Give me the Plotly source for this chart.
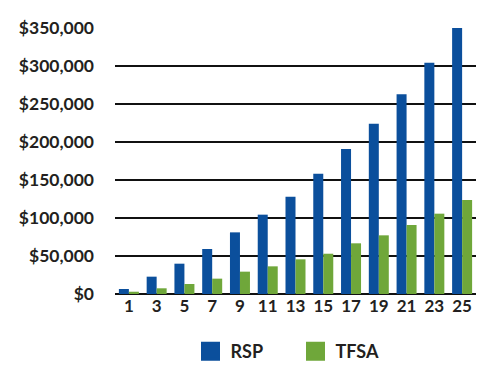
import plotly.graph_objects as go

years = ["1", "3", "5", "7", "9", "11", "13", "15", "17", "19", "21", "23", "25"]
rsp = [6600, 22800, 39900, 59200, 81100, 104400, 128000, 158300, 190800, 224000, 262700, 304400, 350000]
tfsa = [3000, 7500, 13200, 20200, 29400, 36400, 45600, 53000, 66700, 77200, 90800, 105700, 123700]
y_ticks = [0, 50000, 100000, 150000, 200000, 250000, 300000, 350000]
y_labels = ["$0", "$50,000", "$100,000", "$150,000", "$200,000", "$250,000", "$300,000", "$350,000"]

BLUE = "#0b4f9c"
GREEN = "#6fa73a"
TXT = "#231f20"
FONT = "Lato, sans-serif"

fig = go.Figure()
fig.add_trace(go.Bar(x=years, y=rsp, name="RSP", marker=dict(color=BLUE, line_width=0), showlegend=False))
fig.add_trace(go.Bar(x=years, y=tfsa, name="TFSA", marker=dict(color=GREEN, line_width=0), showlegend=False))
# legend entries with larger square symbols
fig.add_trace(go.Scatter(x=[None], y=[None], mode="markers", name="RSP",
                         marker=dict(symbol="square", size=16, color=BLUE, line=dict(color=BLUE, width=3))))
fig.add_trace(go.Scatter(x=[None], y=[None], mode="markers", name="TFSA",
                         marker=dict(symbol="square", size=16, color=GREEN, line=dict(color=GREEN, width=3))))

fig.update_layout(
    width=500, height=375,
    margin=dict(l=107, r=32, t=20, b=89, autoexpand=False),
    paper_bgcolor="white", plot_bgcolor="white",
    barmode="group", bargap=0.28, bargroupgap=0,
    font=dict(family=FONT, color=TXT),
    showlegend=True,
    legend=dict(orientation="h", x=0.5, xanchor="center", y=-0.147, yanchor="top",
                font=dict(size=18, family=FONT, weight="bold", color=TXT),
                itemsizing="trace", itemwidth=30, entrywidth=60, tracegroupgap=0),
    xaxis=dict(type="category", showgrid=False, showline=False, ticks="",
               tickfont=dict(size=17, family=FONT, weight="bold", color=TXT)),
    yaxis=dict(range=[0, 350000], tickvals=y_ticks, ticktext=y_labels,
               showgrid=True, gridcolor="#111111", gridwidth=2,
               zeroline=True, zerolinecolor="#111111", zerolinewidth=2,
               showline=False, ticks="", ticklabelstandoff=20,
               tickfont=dict(size=17.5, family=FONT, weight="bold", color=TXT)),
)

fig.write_html("out.html")
